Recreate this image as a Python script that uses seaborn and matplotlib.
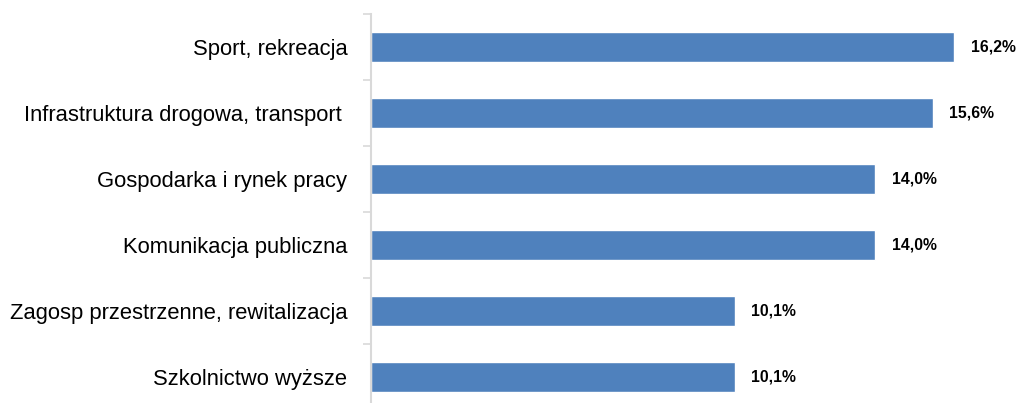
import matplotlib.pyplot as plt
import pandas as pd
import seaborn as sns
from matplotlib.ticker import FixedLocator

# Data
categories = ["Sport, rekreacja", "Infrastruktura drogowa, transport ",
              "Gospodarka i rynek pracy", "Komunikacja publiczna",
              "Zagosp przestrzenne, rewitalizacja", "Szkolnictwo wyższe"]
values = [16.2, 15.6, 14.0, 14.0, 10.1, 10.1]
value_labels = ["16,2%", "15,6%", "14,0%", "14,0%", "10,1%", "10,1%"]

df = pd.DataFrame({"category": categories, "value": values})

sns.set_style("white")
plt.rcParams["font.family"] = ["Liberation Sans", "DejaVu Sans"]

fig = plt.figure(figsize=(10.25, 4.03), dpi=100)
ax = fig.add_axes([371 / 1025, -7 / 403, 648 / 1025, 396 / 403])

sns.barplot(data=df, x="value", y="category", orient="h", color="#4F81BD",
            saturation=1, width=0.44, ax=ax)

ax.set_xlim(0, 18)
ax.set_ylim(5.5, -0.5)
ax.set_xlabel("")
ax.set_ylabel("")
ax.set_xticks([])

for s in ["top", "right", "bottom"]:
    ax.spines[s].set_visible(False)
ax.spines["left"].set_color("#D9D9D9")
ax.spines["left"].set_linewidth(1.5)

# category labels, tick marks only between categories
ax.tick_params(axis="y", which="major", left=False, length=0, pad=17,
               labelsize=15.8, labelcolor="black")
ax.yaxis.set_minor_locator(FixedLocator([i - 0.5 for i in range(7)]))
ax.tick_params(axis="y", which="minor", left=True, length=6, width=1.2, color="#D9D9D9")

ax.bar_label(ax.containers[0], labels=value_labels, padding=12,
             fontsize=11.3, fontweight="bold", color="black")

fig.savefig("out.png", dpi=100)
